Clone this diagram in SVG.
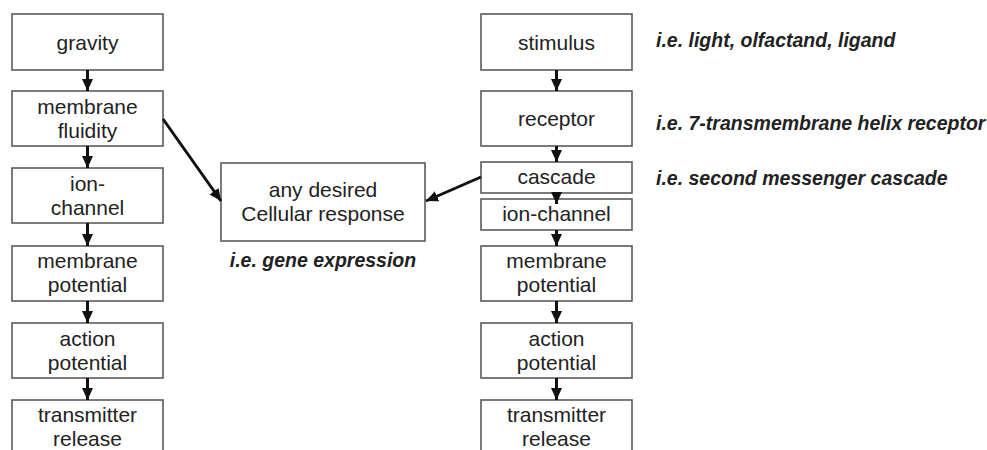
<svg xmlns="http://www.w3.org/2000/svg" width="987" height="450" viewBox="0 0 987 450">
  <style>
    .box { fill: #ffffff; stroke: #5a5a5a; stroke-width: 1.6; }
    .lbl { font-family: "Liberation Sans", Arial, sans-serif; font-size: 21px; fill: #222222; text-anchor: middle; }
    .note { font-family: "Liberation Sans", Arial, sans-serif; font-size: 19.5px; font-weight: bold; font-style: italic; fill: #222222; }
    .arr { stroke: #111111; stroke-width: 3; fill: none; marker-end: url(#head); }
  </style>
  <defs>
    <marker id="head" markerUnits="userSpaceOnUse" viewBox="0 0 12 12" refX="12" refY="6" markerWidth="12" markerHeight="12" orient="auto">
      <path d="M0,0.5 L12,6 L0,11.5 Z" fill="#111111"/>
    </marker>
  </defs>
  <rect width="987" height="450" fill="#ffffff"/>

  <!-- left chain -->
  <g id="gravity"><rect class="box" x="12" y="14" width="151" height="56"/><text class="lbl" x="87.5" y="50">gravity</text></g>
  <g id="membrane-fluidity"><rect class="box" x="12" y="91" width="151" height="55"/><text class="lbl" x="87.5" y="114">membrane</text><text class="lbl" x="87.5" y="138">fluidity</text></g>
  <g id="ion-channel-left"><rect class="box" x="12" y="168" width="151" height="55"/><text class="lbl" x="87.5" y="191">ion-</text><text class="lbl" x="87.5" y="215">channel</text></g>
  <g id="membrane-potential-left"><rect class="box" x="12" y="246" width="151" height="55"/><text class="lbl" x="87.5" y="268">membrane</text><text class="lbl" x="87.5" y="292">potential</text></g>
  <g id="action-potential-left"><rect class="box" x="12" y="323" width="151" height="55"/><text class="lbl" x="87.5" y="346">action</text><text class="lbl" x="87.5" y="370">potential</text></g>
  <g id="transmitter-release-left"><rect class="box" x="12" y="400" width="151" height="60"/><text class="lbl" x="87.5" y="422">transmitter</text><text class="lbl" x="87.5" y="446">release</text></g>

  <!-- central response -->
  <g id="cellular-response"><rect class="box" x="221" y="163" width="204" height="78"/><text class="lbl" x="323" y="197">any desired</text><text class="lbl" x="323" y="221">Cellular response</text></g>
  <text class="note" x="323" y="267" text-anchor="middle">i.e. gene expression</text>

  <!-- right chain -->
  <g id="stimulus"><rect class="box" x="481" y="14" width="151" height="56"/><text class="lbl" x="556.5" y="50">stimulus</text></g>
  <g id="receptor"><rect class="box" x="481" y="91" width="151" height="55"/><text class="lbl" x="556.5" y="126">receptor</text></g>
  <g id="cascade"><rect class="box" x="481" y="162" width="151" height="31"/><text class="lbl" x="556.5" y="184">cascade</text></g>
  <g id="ion-channel-right"><rect class="box" x="481" y="199" width="151" height="31"/><text class="lbl" x="556.5" y="221">ion-channel</text></g>
  <g id="membrane-potential-right"><rect class="box" x="481" y="246" width="151" height="55"/><text class="lbl" x="556.5" y="268">membrane</text><text class="lbl" x="556.5" y="292">potential</text></g>
  <g id="action-potential-right"><rect class="box" x="481" y="323" width="151" height="55"/><text class="lbl" x="556.5" y="346">action</text><text class="lbl" x="556.5" y="370">potential</text></g>
  <g id="transmitter-release-right"><rect class="box" x="481" y="400" width="151" height="60"/><text class="lbl" x="556.5" y="422">transmitter</text><text class="lbl" x="556.5" y="446">release</text></g>

  <!-- annotations -->
  <text class="note" x="656" y="47">i.e. light, olfactand, ligand</text>
  <text class="note" x="656" y="130">i.e. 7-transmembrane helix receptor</text>
  <text class="note" x="656" y="185">i.e. second messenger cascade</text>

  <g id="connectors">
    <path class="arr" d="M87.5,70 V91"/>
    <path class="arr" d="M87.5,146 V168"/>
    <path class="arr" d="M87.5,223 V246"/>
    <path class="arr" d="M87.5,301 V323"/>
    <path class="arr" d="M87.5,378 V400"/>
    <path class="arr" d="M163,119 L221,201"/>
    <path class="arr" d="M481,177 L426,201"/>
    <path class="arr" d="M556.5,70 V91"/>
    <path class="arr" d="M556.5,146 V162"/>
    <path class="arr" d="M556.5,193 V204"/>
    <path class="arr" d="M556.5,230 V246"/>
    <path class="arr" d="M556.5,301 V323"/>
    <path class="arr" d="M556.5,378 V400"/>
  </g>
</svg>
